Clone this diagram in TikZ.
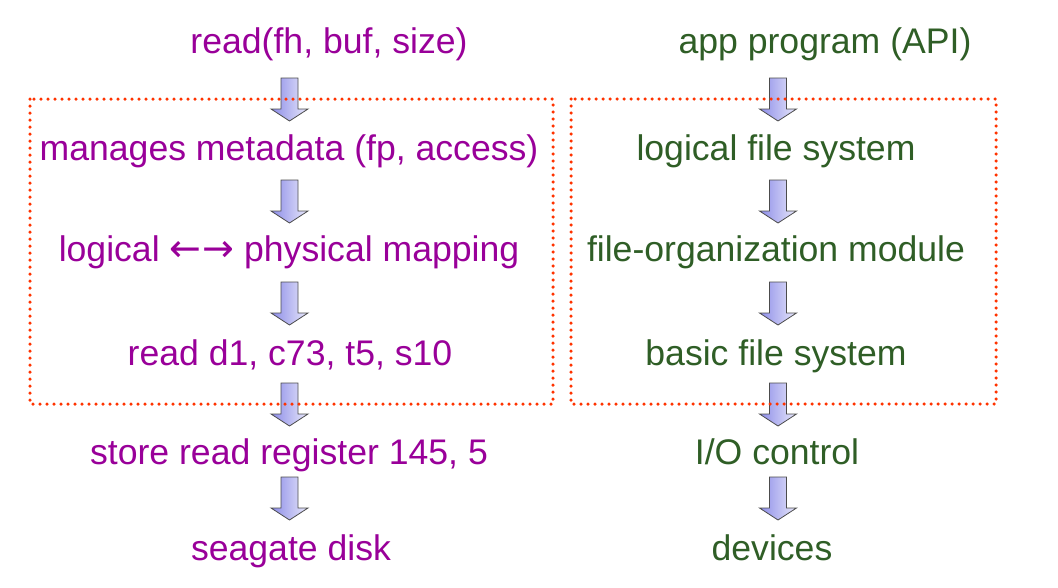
\documentclass[tikz,border=0pt]{standalone}
\usepackage{fontspec}
\setmainfont{Liberation Sans}
\newfontfamily\arrowfont{DejaVu Sans}
\usetikzlibrary{calc}
\definecolor{callpurple}{RGB}{153,0,153}
\definecolor{layergreen}{RGB}{47,94,38}
\definecolor{dotred}{RGB}{255,51,0}
\definecolor{arrowblue}{RGB}{140,140,232}
\tikzset{
    calltext/.style={text=callpurple, font=\fontsize{35.6}{40}\selectfont, anchor=base, inner sep=0pt},
    layertext/.style={calltext, text=layergreen},
    layerbox/.style={draw=dotred, line width=3.5pt, line cap=round, dash pattern=on 0pt off 7pt},
    blockarrow/.style={draw=black!70, line width=0.8pt, left color=arrowblue, right color=arrowblue!20}
}
% block arrow pointing down: x of centre, y of top
\newcommand{\downarrowat}[2]{%
  \draw[blockarrow] (#1-8.5,#2) -- (#1+8.5,#2) -- (#1+8.5,#2+31) -- (#1+18.5,#2+31)
    -- (#1,#2+43) -- (#1-18.5,#2+31) -- (#1-8.5,#2+31) -- cycle;}

\begin{document}
\begin{tikzpicture}[x=1pt, y=-1pt]
    \useasboundingbox (0,0) rectangle (1058,587);
    % left column: one call down the layers
    \node[calltext] (call) at (329,53) {read(fh, buf, size)};
    \node[calltext] (meta) at (289,160) {manages metadata (fp, access)};
    \node[calltext] (map) at (289,261) {logical {\arrowfont\fontsize{38}{40}\selectfont ←\kern1pt→} physical mapping};
    \node[calltext] (blk) at (290,365) {read d1, c73, t5, s10};
    \node[calltext] (reg) at (289,464) {store read register 145, 5};
    \node[calltext] (disk) at (291,560) {seagate disk};
    % right column: the layers
    \node[layertext] (app) at (825,53) {app program (API)};
    \node[layertext] (lfs) at (776,160) {logical file system};
    \node[layertext] (fom) at (776,261) {file-organization module};
    \node[layertext] (bfs) at (776,365) {basic file system};
    \node[layertext] (ioc) at (777,464) {I/O control};
    \node[layertext] (dev) at (772,560) {devices};
    % arrows between the rows
    \foreach \top in {78,180,282,383,477} {
        \downarrowat{289.5}{\top}
        \downarrowat{778}{\top}
    }
    % dotted boxes
    \draw[layerbox] (30,99) rectangle (553,404);
    \draw[layerbox] (571,99) rectangle (996,404);
\end{tikzpicture}
\end{document}
